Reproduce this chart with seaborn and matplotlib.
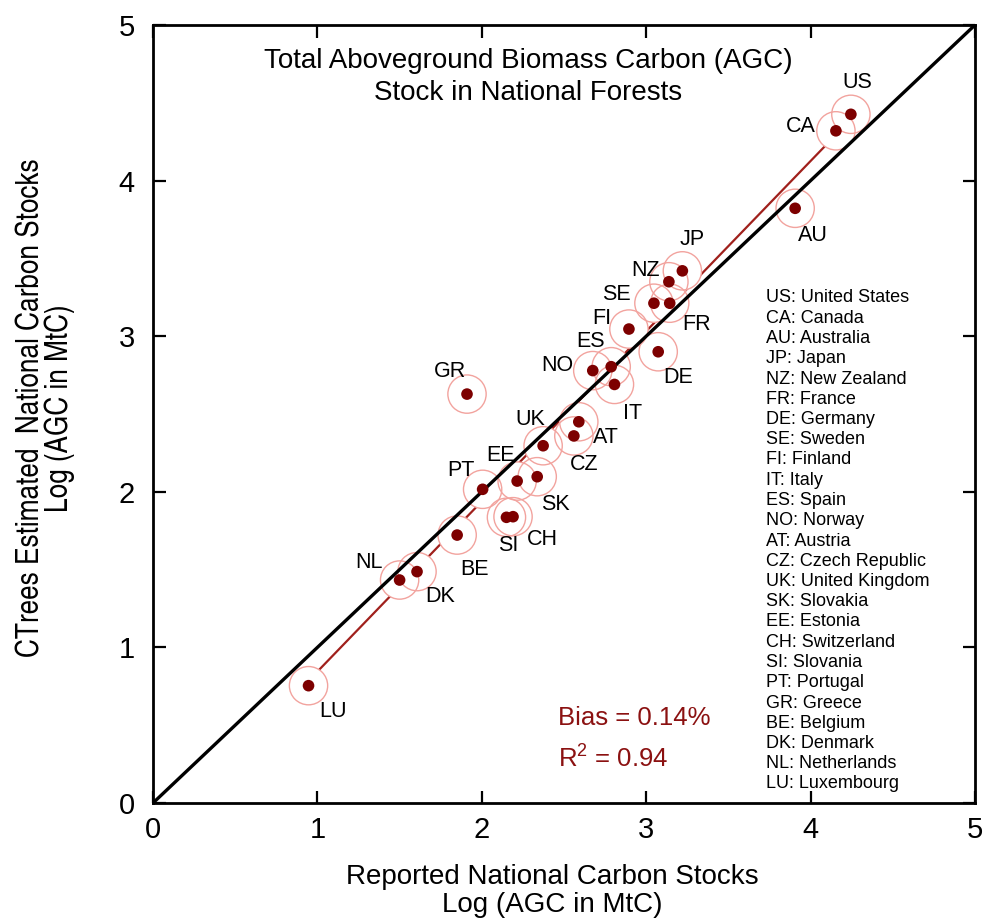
import matplotlib
matplotlib.use("Agg")
import matplotlib.pyplot as plt
import seaborn as sns
import pandas as pd

# ---------------- data ----------------
codes = ["US", "CA", "AU", "JP", "NZ", "FR", "DE", "SE", "FI", "IT", "ES", "NO", "AT",
         "CZ", "UK", "SK", "EE", "CH", "SI", "PT", "GR", "BE", "DK", "NL", "LU"]
names = ["United States", "Canada", "Australia", "Japan", "New Zealand", "France",
         "Germany", "Sweden", "Finland", "Italy", "Spain", "Norway", "Austria",
         "Czech Republic", "United Kingdom", "Slovakia", "Estonia", "Switzerland",
         "Slovania", "Portugal", "Greece", "Belgium", "Denmark", "Netherlands", "Luxembourg"]
reported = [4.245, 4.154, 3.906, 3.220, 3.138, 3.143, 3.073, 3.047, 2.895, 2.807, 2.787,
            2.675, 2.590, 2.560, 2.373, 2.337, 2.215, 2.190, 2.150, 2.005, 1.910, 1.850,
            1.606, 1.500, 0.946]
estimated = [4.426, 4.320, 3.822, 3.420, 3.350, 3.212, 2.900, 3.212, 3.046, 2.690, 2.804,
             2.779, 2.450, 2.359, 2.296, 2.097, 2.069, 1.840, 1.836, 2.016, 2.628, 1.722,
             1.487, 1.433, 0.754]
fit_x = [0.95, 4.15]
fit_y = [0.79, 4.29]
one_to_one = [0, 5]
axis_ticks = [0, 1, 2, 3, 4, 5]
bias_text = "Bias = 0.14%"
r2_text = "R$^2$ = 0.94"
title_text = "Total Aboveground Biomass Carbon (AGC)\nStock in National Forests"
xlabel_text = "Reported National Carbon Stocks\nLog (AGC in MtC)"
ylabel_text = "CTrees Estimated  National Carbon Stocks\nLog (AGC in MtC)"

# ---------------- layout (label offsets in pixels) ----------------
label_offsets = {
    "US": (6, 32), "CA": (-35, 4), "AU": (18, -27), "JP": (10, 31), "NZ": (-23, 11),
    "SE": (-38, 9), "FR": (27, -21), "FI": (-27, 11), "DE": (20, -26), "ES": (-21, 25),
    "NO": (-35, 5), "IT": (18, -29), "GR": (-17, 23), "UK": (-13, 26), "AT": (27, -16),
    "CZ": (10, -29), "EE": (-17, 26), "PT": (-22, 19), "SK": (18, -28), "SI": (2, -28),
    "CH": (29, -23), "BE": (17, -34), "DK": (23, -25), "NL": (-31, 18), "LU": (24, -26),
}

df = pd.DataFrame({"code": codes, "name": names, "reported": reported, "estimated": estimated})
fit_df = pd.DataFrame({"x": fit_x, "y": fit_y})
line_df = pd.DataFrame({"x": one_to_one, "y": one_to_one})

sns.set_style("ticks")
plt.rcParams["font.family"] = ["Liberation Sans", "DejaVu Sans"]
plt.rcParams["text.color"] = "black"
plt.rcParams["xtick.color"] = "black"
plt.rcParams["ytick.color"] = "black"
plt.rcParams["axes.edgecolor"] = "black"
plt.rcParams["mathtext.fontset"] = "custom"
plt.rcParams["mathtext.rm"] = "Liberation Sans"

W, H = 985, 923
fig = plt.figure(figsize=(W / 100, H / 100), dpi=100)
ax = fig.add_axes([153 / W, 1 - 803 / H, (975 - 153) / W, (803 - 25) / H])

dark_red = "#7d0000"
ring = "#f2a39e"

sns.lineplot(data=fit_df, x="x", y="y", ax=ax, color="#a0201c", linewidth=1.6, zorder=2)
sns.scatterplot(data=df, x="reported", y="estimated", ax=ax, s=760, color="white",
                edgecolor="none", linewidth=0, zorder=3)
sns.scatterplot(data=df, x="reported", y="estimated", ax=ax, s=760, facecolors="none",
                edgecolor=ring, linewidth=1.0, zorder=3.5)
sns.lineplot(data=line_df, x="x", y="y", ax=ax, color="black", linewidth=2.4, zorder=4)
sns.scatterplot(data=df, x="reported", y="estimated", ax=ax, s=70, color=dark_red,
                edgecolor="none", linewidth=0, zorder=5)

for c, xv, yv in zip(codes, reported, estimated):
    dx, dy = label_offsets[c]
    ax.annotate(c, (xv, yv), xytext=(dx, dy), textcoords="offset pixels",
                ha="center", va="center", fontsize=15.5, color="black", zorder=6)

ax.set_xlim(0, 5)
ax.set_ylim(0, 5)
ax.set_xticks(axis_ticks)
ax.set_yticks(axis_ticks)
ax.set_xlabel("")
ax.set_ylabel("")
ax.tick_params(axis="both", direction="in", length=9, width=1.6, labelsize=21,
               top=True, right=True, labeltop=False, labelright=False)
ax.tick_params(axis="x", pad=9)
ax.tick_params(axis="y", pad=13)
for s in ax.spines.values():
    s.set_linewidth(2.0)
    s.set_visible(True)

fig.text(528 / W, 1 - 77 / H, title_text, ha="center", va="center", fontsize=20,
         linespacing=1.32)
fig.text(552 / W, 1 - 891 / H, xlabel_text, ha="center", va="center", fontsize=20,
         linespacing=1.15)
fig.text(46 / W, 1 - 408 / H, ylabel_text, ha="center", va="center", fontsize=23,
         rotation=90, linespacing=0.9,
         family=["TeX Gyre Heros Cn", "Archivo Narrow", "Liberation Sans", "DejaVu Sans"])

ax.text(558 / W, 1 - 718 / H, bias_text, transform=fig.transFigure, ha="left",
        va="center", fontsize=18.5, color="#8b1111")
ax.text(558 / W, 1 - 758 / H, r2_text, transform=fig.transFigure, ha="left",
        va="center", fontsize=18.5, color="#8b1111")

for i, (c, n) in enumerate(zip(codes, names)):
    fig.text(766 / W, 1 - (298 + i * 20.25) / H, f"{c}: {n}", ha="left", va="center",
             fontsize=13, color="black")

fig.savefig("out.png", dpi=100)
